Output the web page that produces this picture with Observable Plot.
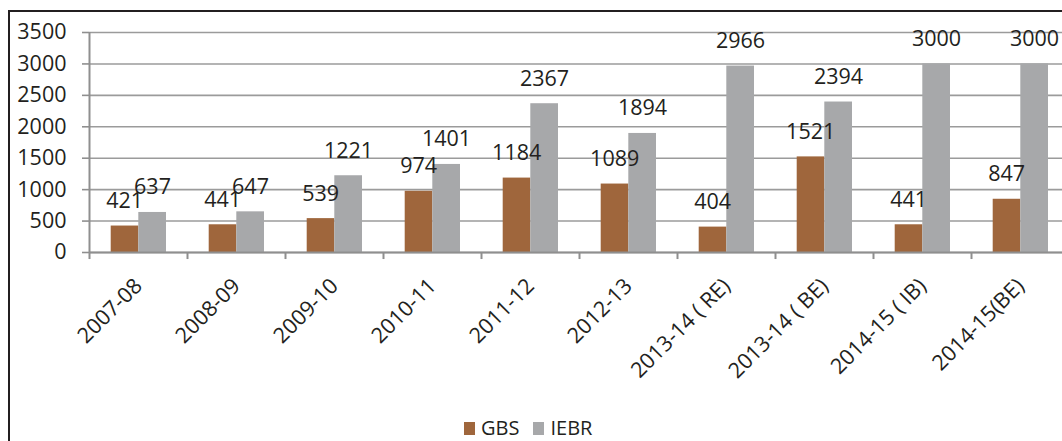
<!DOCTYPE html>
<html>
<head>
<meta charset="utf-8">
<script src="https://cdn.jsdelivr.net/npm/d3@7"></script>
<script src="https://cdn.jsdelivr.net/npm/@observablehq/plot@0.6"></script>
<style>
  html, body { margin: 0; padding: 0; background: #fff; overflow: hidden; }
  body { width: 1062px; height: 441px; position: relative; font-family: "Open Sans", sans-serif; color: #231f20; }
  #title { position: absolute; left: 92px; top: -30px; font: bold 24px "Open Sans", sans-serif; white-space: nowrap; line-height: 30px; }
  #frame { position: absolute; left: 8px; top: 10px; width: 1100px; height: 500px; border-left: 2px solid #231f20; border-top: 2px solid #231f20; box-sizing: border-box; }
  #chart { position: absolute; left: 0; top: 0; }
  #chart svg { max-width: none !important; }
  #legend { position: absolute; left: 464px; top: 415px; }
  .lg-swatches { font-family: "Open Sans", sans-serif !important; font-size: 20px !important; color: #231f20; margin: 0 !important; min-height: 0 !important; line-height: 26px; }
  .lg-swatch { margin-right: 14px !important; }
  .lg-swatch > svg { margin-right: 6px !important; }
</style>
</head>
<body>
<div id="title">Budgetary Allocation for New and Renewable Energy</div>
<div id="frame"></div>
<div id="chart"></div>
<div id="legend"></div>
<script>
const categories = ["2007-08","2008-09","2009-10","2010-11","2011-12","2012-13","2013-14 ( RE)","2013-14 ( BE)","2014-15 ( IB)","2014-15(BE)"];
const gbs  = [421, 441, 539, 974, 1184, 1089, 404, 1521, 441, 847];
const iebr = [637, 647, 1221, 1401, 2367, 1894, 2966, 2394, 3000, 3000];
const seriesNames = ["GBS", "IEBR"];
const seriesColors = ["#9f663c", "#a7a8aa"];
const yTicks = [0, 500, 1000, 1500, 2000, 2500, 3000, 3500];

const rows = [];
categories.forEach((c, i) => {
  rows.push({cat: c, series: "GBS", value: gbs[i]});
  rows.push({cat: c, series: "IEBR", value: iebr[i]});
});
const gRows = rows.filter(d => d.series === "GBS");
const iRows = rows.filter(d => d.series === "IEBR");

const W = 1080, H = 441;
const FS = 21.5;
const chart = Plot.plot({
  width: W,
  height: H,
  marginLeft: 89,
  marginRight: W - 1069,
  marginTop: 32,
  marginBottom: H - 252,
  style: {fontFamily: "Open Sans, sans-serif", fontSize: FS + "px", color: "#231f20", background: "transparent", overflow: "visible", maxWidth: "none"},
  x: {domain: categories, padding: 0, paddingInner: 0, paddingOuter: 0},
  y: {domain: [0, 3500]},
  color: {domain: seriesNames, range: seriesColors},
  marks: [
    Plot.gridY(yTicks, {stroke: "#9b9b9b", strokeOpacity: 1, strokeWidth: 1.6}),
    Plot.axisY(yTicks, {tickSize: 7, tickPadding: 16, stroke: "#8f8f8f", strokeWidth: 1.6, fontSize: FS, tickFormat: d => String(d), label: null}),
    Plot.ruleX([categories[0]], {y1: 0, y2: 3500, dx: -49, stroke: "#8f8f8f", strokeWidth: 2}),
    Plot.ruleX(categories, {y1: 0, y2: -112, dx: -49, stroke: "#8f8f8f", strokeWidth: 2}),
    Plot.barY(gRows, {x: "cat", y: "value", fill: d => d.series, insetLeft: 21.7, insetRight: 48.7}),
    Plot.barY(iRows, {x: "cat", y: "value", fill: d => d.series, insetLeft: 49.3, insetRight: 21}),
    Plot.ruleY([0], {stroke: "#8f8f8f", strokeWidth: 2}),
    Plot.text(gRows, {x: "cat", y: "value", text: d => String(d.value), dx: -13.8, dy: -25, fontSize: FS, fill: "#231f20"}),
    Plot.text(iRows, {x: "cat", y: "value", text: d => String(d.value), dx: 14, dy: -25, fontSize: FS, fill: "#231f20"}),
    Plot.axisX({tickSize: 0, tickPadding: 30, tickRotate: -45, fontSize: FS, label: null})
  ]
});
document.getElementById("chart").append(chart);

const legend = Plot.legend({
  color: {domain: seriesNames, range: seriesColors},
  legend: "swatches",
  swatchWidth: 11,
  swatchHeight: 13,
  className: "lg"
});
document.getElementById("legend").append(legend);
</script>
</body>
</html>
